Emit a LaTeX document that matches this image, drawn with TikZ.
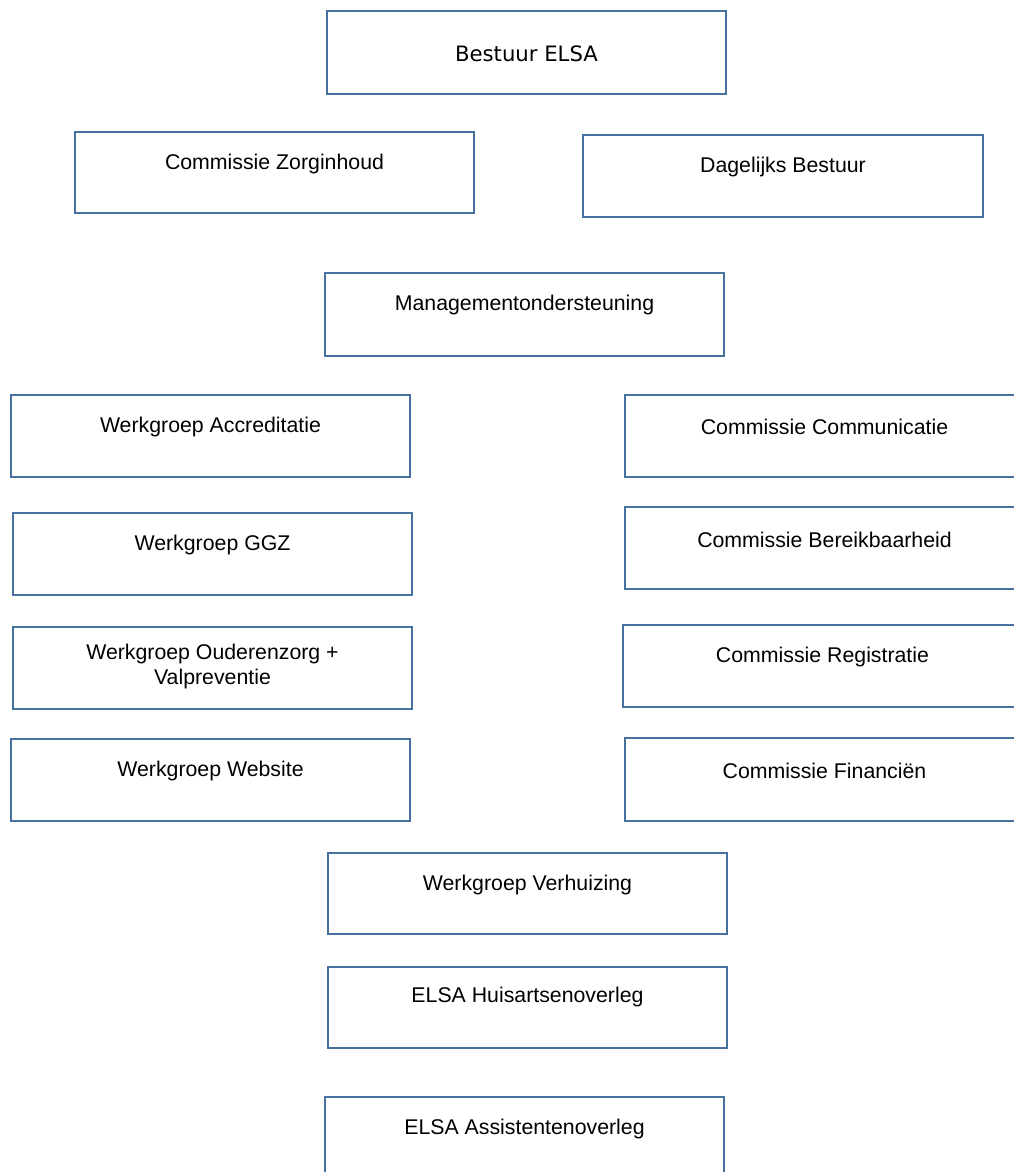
\documentclass[tikz,border=0pt]{standalone}
\usepackage{fontspec}
\newfontfamily\arialf{Liberation Sans}
\newfontfamily\verdf{DejaVu Sans}
\definecolor{boxblue}{HTML}{46719F}
\begin{document}
\begin{tikzpicture}[x=1pt,y=-1pt,
  orgbox/.style={draw=boxblue, line width=2.6pt, minimum width=399pt, minimum height=82pt, inner sep=0pt},
  lbl/.style={font=\arialf\fontsize{21.3pt}{25pt}\selectfont, inner sep=0pt, anchor=center, align=center, text=black, yshift=-2pt},
  lblv/.style={font=\verdf\fontsize{21.2pt}{25pt}\selectfont, inner sep=0pt, anchor=center, text=black, yshift=-1pt}]
\clip (0,0) rectangle (1014,1172);
\fill[white] (0,0) rectangle (1014,1172);
% boxes
\node[orgbox, minimum height=83pt] (bestuur) at (526.5,52.5) {};
\node[orgbox, minimum height=81pt] (zorg) at (274.5,172.5) {};
\node[orgbox, minimum width=400pt] (dagelijks) at (783,176) {};
\node[orgbox, minimum height=83pt] (mgmt) at (524.5,314.5) {};
\node[orgbox] (accr) at (210.5,436) {};
\node[orgbox] (comm) at (824.5,436) {};
\node[orgbox] (ggz) at (212.5,554) {};
\node[orgbox] (bereik) at (824.5,548) {};
\node[orgbox] (oud) at (212.5,668) {};
\node[orgbox] (regis) at (822.5,666) {};
\node[orgbox] (web) at (210.5,780) {};
\node[orgbox, minimum height=83pt] (fin) at (824.5,779.5) {};
\node[orgbox, minimum height=81pt] (verh) at (527.5,893.5) {};
\node[orgbox, minimum height=81pt] (huis) at (527.5,1007.5) {};
\node[orgbox] (assist) at (524.5,1138) {};
% labels
\node[lblv] (tbestuur) at (526.5,53) {Bestuur ELSA};
\node[lbl] (tzorg) at (274.5,162) {Commissie Zorginhoud};
\node[lbl] (tdag) at (783,165) {Dagelijks Bestuur};
\node[lbl] (tmgmt) at (524.5,303) {Managementondersteuning};
\node[lbl] (taccr) at (210.5,425) {Werkgroep Accreditatie};
\node[lbl] (tcomm) at (824.5,425) {Commissie Communicatie};
\node[lbl] (tggz) at (212.5,543) {Werkgroep GGZ};
\node[lbl] (tbereik) at (824.5,538) {Commissie Bereikbaarheid};
\node[lbl] (toud) at (212.5,664.5) {Werkgroep Ouderenzorg +\\Valpreventie};
\node[lbl] (tregis) at (822.5,655) {Commissie Registratie};
\node[lbl] (tweb) at (210.5,769) {Werkgroep Website};
\node[lbl] (tfin) at (824.5,769) {Commissie Financiën};
\node[lbl] (tverh) at (527.5,883) {Werkgroep Verhuizing};
\node[lbl] (thuis) at (527.5,995) {ELSA Huisartsenoverleg};
\node[lbl] (tassist) at (524.5,1127) {ELSA Assistentenoverleg};
\end{tikzpicture}
\end{document}
